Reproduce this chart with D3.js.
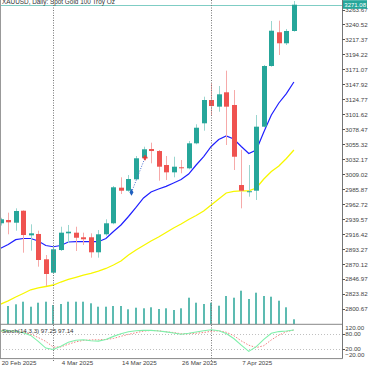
<!DOCTYPE html>
<html><head><meta charset="utf-8">
<script src="https://cdn.jsdelivr.net/npm/d3@7"></script>
<style>
html,body{margin:0;padding:0;background:#fff;overflow:hidden}
svg{display:block}
text{font-family:"Liberation Sans",Arial,sans-serif}
</style>
</head><body>
<svg id="c" width="375" height="366"></svg>
<script>
// ---------- data ----------
const dates = ["20 Feb","21 Feb","24 Feb","25 Feb","26 Feb","27 Feb","28 Feb",
  "3 Mar","4 Mar","5 Mar","6 Mar","7 Mar","10 Mar","11 Mar","12 Mar","13 Mar","14 Mar",
  "17 Mar","18 Mar","19 Mar","20 Mar","21 Mar","24 Mar","25 Mar","26 Mar","27 Mar","28 Mar","31 Mar",
  "1 Apr","2 Apr","3 Apr","4 Apr","7 Apr","8 Apr","9 Apr","10 Apr","11 Apr","14 Apr","15 Apr","16 Apr"];
const openP  = [2933.5,2938.6,2934.4,2952.9,2914.9,2917.0,2877.9,2857.2,2892.2,2918.0,2919.0,2911.9,2911.9,2888.7,2916.5,2933.5,2988.5,2983.8,3001.4,3034.8,3048.2,3045.1,3023.5,3012.2,3020.0,3018.4,3057.0,3087.9,3123.9,3113.6,3135.8,3116.2,2992.6,2982.5,2983.8,3082.7,3176.4,3228.5,3211.5,3230.5];
const highP  = [2942.0,2949.9,2956.6,2953.5,2931.9,2922.1,2884.5,2898.4,2928.2,2930.9,2928.2,2919.0,2918.0,2923.1,2939.7,2991.1,3004.5,3008.1,3037.4,3051.8,3058.0,3046.7,3037.4,3036.3,3031.2,3060.6,3086.4,3129.0,3149.7,3145.5,3169.2,3139.3,3047.0,3023.5,3100.7,3178.0,3245.9,3246.4,3233.6,3276.8];
const lowP   = [2930.0,2916.5,2922.1,2888.1,2891.2,2866.5,2836.6,2855.2,2890.7,2903.1,2890.7,2900.0,2880.4,2880.4,2914.3,2932.0,2978.7,2982.3,3000.4,3032.3,3026.1,2999.3,3000.4,3004.5,3010.7,3016.9,3055.5,3076.5,3100.7,3105.8,3054.4,3015.8,2956.6,2974.6,2969.5,3081.7,3175.3,3193.4,3208.8,3229.4];
const closeP = [2939.7,2935.0,2952.5,2915.4,2918.0,2876.8,2855.2,2893.3,2919.0,2920.5,2911.2,2908.8,2888.7,2916.5,2933.5,2989.1,2983.8,3001.9,3033.9,3047.8,3045.1,3020.9,3012.2,3020.9,3018.9,3057.0,3081.1,3123.9,3114.6,3132.7,3113.6,3036.3,2983.8,2983.0,3082.7,3176.4,3230.9,3211.5,3230.5,3271.08];
const maFast = [2894.9,2900.7,2908.2,2910.0,2910.0,2906.1,2899.2,2897.3,2899.2,2904.6,2905.1,2905.1,2905.1,2905.1,2910.0,2920.8,2930.9,2944.0,2957.9,2972.6,2981.8,2986.5,2990.6,2995.7,3001.1,3009.6,3023.5,3036.6,3052.1,3062.9,3068.3,3063.7,3052.1,3041.3,3046.7,3074.5,3100.7,3119.3,3133.9,3151.7];
const maSlow = [2808.8,2813.8,2819.7,2825.1,2830.8,2833.6,2835.9,2838.2,2842.8,2846.7,2850.1,2853.6,2856.3,2859.8,2863.7,2869.1,2875.3,2884.5,2892.2,2899.2,2906.1,2912.3,2919.3,2926.2,2932.4,2939.4,2945.5,2952.5,2961.7,2971.0,2980.3,2982.9,2983.7,2983.7,2988.0,3001.9,3013.5,3022.0,3033.6,3046.7];
const volume = [null,18300,20000,22600,17600,21600,22600,19300,20300,22600,22600,22600,21000,17600,17600,18300,18300,15000,16600,16000,17000,15300,16000,14300,16000,26600,21600,20300,21600,18600,28300,26600,33600,25300,31600,28300,27600,23600,17000,5000];
const stochK = [93.7,93.7,91.8,85.9,74.9,50.6,23.1,17.3,31.0,46.7,55.3,57.3,53.3,51.4,58.4,71.0,82.0,89.8,93.7,95.7,95.7,92.9,89.4,84.7,80.0,83.9,89.0,94.1,98.0,93.7,82.4,62.4,34.9,9.4,29.0,58.4,83.9,90.6,92.9,97.25];
const stochD = [91.8,91.8,89.8,87.9,80.0,66.3,50.6,27.1,27.8,38.8,48.6,54.5,56.5,57.3,58.4,62.4,71.4,79.2,85.9,92.6,94.9,94.1,89.8,86.7,81.6,82.0,83.9,86.7,91.8,93.7,87.9,74.1,52.6,34.9,25.1,32.9,56.5,76.1,89.8,97.14];
const priceTicks = [2800.67,2823.82,2846.97,2870.12,2893.27,2916.42,2939.57,2962.72,2985.87,3009.02,3032.17,3055.32,3078.47,3101.62,3124.77,3147.92,3171.07,3194.22,3217.37,3240.52,3263.67];
const stochTicks = [120,80,20,-20];
const stochLevels = [80,20];
const dateLabels = [["20 Feb","20 Feb 2025"],["4 Mar","4 Mar 2025"],["14 Mar","14 Mar 2025"],["26 Mar","26 Mar 2025"],["7 Apr","7 Apr 2025"]];
const separators = ["3 Mar","1 Apr"];
const lastPrice = 3271.08;
const trade = [["17 Mar",2981.3],["19 Mar",3034.8]];
const title = "XAUUSD, Daily:  Spot Gold 100 Troy Oz";
const stochTitle = "Stoch(14,3,3) 97.25 97.14";

// ---------- layout ----------
const svg = d3.select("#c");
const axisX = 342.5, mainBottom = 324.3, stTop = 324.4, stBottom = 358.6;
const x = d3.scalePoint().domain(dates).range([0.66, 293.9]);
const y = d3.scaleLinear().domain([2800.67, 3263.67]).range([309.3, 9.5]);
const yv = d3.scaleLinear().domain([0, 40000]).range([mainBottom, mainBottom - 40]);
const ys = d3.scaleLinear().domain([-20, 120]).range([stBottom, stTop]);
const bull = "#26a69a", bear = "#ef5350";
const idx = d3.range(dates.length);

const defs = svg.append("defs");
defs.append("clipPath").attr("id","mc").append("rect").attr("x",0).attr("y",0).attr("width",axisX).attr("height",mainBottom);
defs.append("clipPath").attr("id","sc").append("rect").attr("x",0).attr("y",stTop).attr("width",axisX).attr("height",stBottom-stTop);
const main = svg.append("g").attr("clip-path","url(#mc)");
const st = svg.append("g").attr("clip-path","url(#sc)");

// title (partly above the top edge, as in the reference)
svg.append("text").attr("x",2).attr("y",3.6).attr("font-size",6.4).attr("fill","#333").text(title);

// last price line
main.append("line").attr("x1",0).attr("x2",axisX).attr("y1",Math.round(y(lastPrice))+0.5).attr("y2",Math.round(y(lastPrice))+0.5)
  .attr("stroke","#7fcdc4").attr("stroke-width",1);

// separators
separators.forEach(d => {
  svg.append("line").attr("x1",Math.round(x(d))+0.5).attr("x2",Math.round(x(d))+0.5).attr("y1",0).attr("y2",361)
    .attr("stroke","#777").attr("stroke-dasharray","1,1.5").attr("stroke-width",1);
});

// volumes
main.selectAll("rect.vol").data(idx.filter(i => volume[i] != null)).enter().append("rect")
  .attr("x", i => Math.round(x(dates[i])) - 1).attr("width", 2)
  .attr("y", i => yv(volume[i])).attr("height", i => mainBottom - yv(volume[i]))
  .attr("fill", "#5dbbb1");

// moving averages
const line = d3.line().x((d,i) => x(dates[i])).y(d => y(d));
main.append("path").attr("d", line(maSlow)).attr("fill","none").attr("stroke","#f7f700").attr("stroke-width",1.3);
main.append("path").attr("d", line(maFast)).attr("fill","none").attr("stroke","#2020ff").attr("stroke-width",1.2);

// candles
const cg = main.selectAll("g.c").data(idx).enter().append("g");
cg.append("line")
  .attr("x1", i => Math.round(x(dates[i])) + 0.5).attr("x2", i => Math.round(x(dates[i])) + 0.5)
  .attr("y1", i => y(highP[i])).attr("y2", i => y(lowP[i]))
  .attr("stroke", i => closeP[i] >= openP[i] ? "#9ad6cf" : "#f6aaa9").attr("stroke-width",1);
cg.append("rect")
  .attr("x", i => Math.round(x(dates[i])) - 2).attr("width", 5)
  .attr("y", i => y(Math.max(openP[i], closeP[i])))
  .attr("height", i => Math.max(1, Math.abs(y(openP[i]) - y(closeP[i]))))
  .attr("fill", i => closeP[i] >= openP[i] ? bull : bear);

// trade markers
main.append("line").attr("x1", x(trade[0][0]) + 3).attr("y1", y(trade[0][1]))
  .attr("x2", x(trade[1][0]) + 1.5).attr("y2", y(trade[1][1]))
  .attr("stroke","#4a6fd0").attr("stroke-dasharray","1,1.5").attr("stroke-width",1);
main.append("path").attr("d", d3.symbol().type(d3.symbolDiamond).size(14)())
  .attr("transform", `translate(${x(trade[0][0]) + 3},${y(trade[0][1])})`).attr("fill","#1f5fbf");
main.append("path").attr("d", d3.symbol().type(d3.symbolCross).size(14)())
  .attr("transform", `translate(${x(trade[1][0]) + 1.5},${y(trade[1][1])})`).attr("fill","#e53935");

// stochastic
stochLevels.forEach(v => {
  st.append("line").attr("x1",0).attr("x2",axisX).attr("y1",Math.round(ys(v))+0.5).attr("y2",Math.round(ys(v))+0.5)
    .attr("stroke","#c0c0c0").attr("stroke-dasharray","1,2");
});
const sline = d3.line().x((d,i) => x(dates[i])).y(d => ys(d));
st.append("path").attr("d", sline(stochD)).attr("fill","none").attr("stroke","#f08080").attr("stroke-width",1).attr("stroke-dasharray","1.5,1.5");
st.append("path").attr("d", sline(stochK)).attr("fill","none").attr("stroke","#7ff0aa").attr("stroke-width",1.1);
svg.append("text").attr("x",2).attr("y",332.6).attr("font-size",6.2).attr("fill","#333").text(stochTitle);

// frame lines
svg.append("line").attr("x1",0.5).attr("x2",0.5).attr("y1",0).attr("y2",stBottom).attr("stroke","#999");
svg.append("line").attr("x1",0).attr("x2",axisX).attr("y1",mainBottom).attr("y2",mainBottom).attr("stroke","#888");
svg.append("line").attr("x1",0).attr("x2",axisX).attr("y1",stBottom).attr("y2",stBottom).attr("stroke","#888");
svg.append("line").attr("x1",axisX).attr("x2",axisX).attr("y1",0).attr("y2",stBottom).attr("stroke","#777");

// price axis
const pa = svg.append("g");
priceTicks.forEach(v => {
  const yy = y(v);
  pa.append("line").attr("x1",axisX).attr("x2",axisX+2.5).attr("y1",Math.round(yy)+0.5).attr("y2",Math.round(yy)+0.5).attr("stroke","#555");
  pa.append("text").attr("x",axisX+2.8).attr("y",yy).attr("dy","0.35em").attr("font-size",6.2).attr("fill","#444").text(d3.format(".2f")(v));
});
// last price badge
const ly = y(lastPrice);
pa.append("rect").attr("x",axisX+0.5).attr("y",ly-4.5).attr("width",24).attr("height",8.6).attr("fill",bull);
pa.append("text").attr("x",axisX+1.8).attr("y",ly).attr("dy","0.35em").attr("font-size",6.0).attr("fill","#fff").text(d3.format(".2f")(lastPrice));

// stoch axis
stochTicks.forEach(v => {
  const yy = Math.min(Math.max(ys(v), stTop + 3.3), stBottom - 3.6);
  if (v === 80 || v === 20) pa.append("line").attr("x1",axisX).attr("x2",axisX+2.5).attr("y1",Math.round(yy)+0.5).attr("y2",Math.round(yy)+0.5).attr("stroke","#555");
  pa.append("text").attr("x",axisX+2.8).attr("y",yy).attr("dy","0.35em").attr("font-size",6.2).attr("fill","#444").text(d3.format(".2f")(v));
});

// date axis
dateLabels.forEach(([d, t]) => {
  svg.append("text").attr("x", x(d) + 1).attr("y", 365.2).attr("font-size",6.2).attr("fill","#444").text(t);
});
</script>
</body></html>
